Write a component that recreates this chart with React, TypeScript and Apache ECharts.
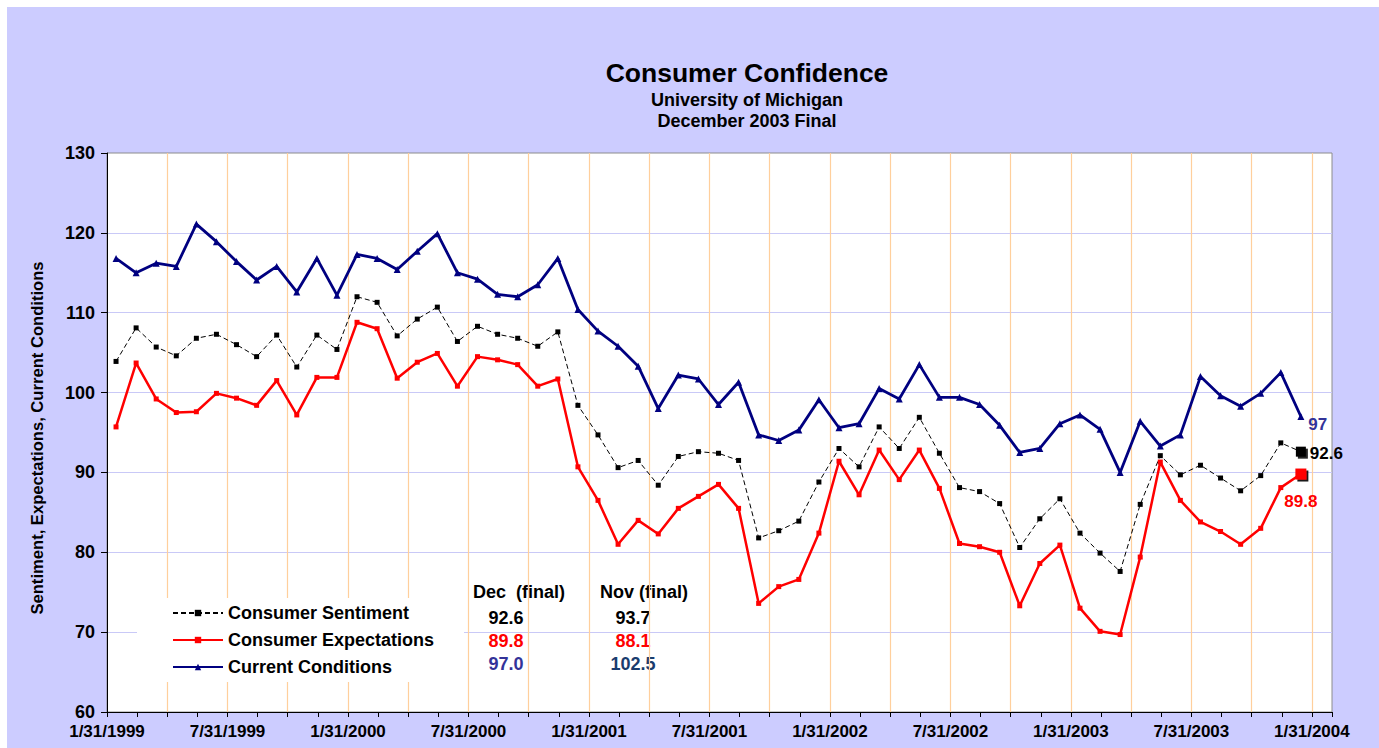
import React, { useEffect, useRef } from "react";
import * as echarts from "echarts";

// Monthly values, Jan 1999 .. Dec 2003
const sentiment = [
  103.9, 108.1, 105.7, 104.6, 106.8, 107.3, 106.0, 104.5, 107.2, 103.2, 107.2, 105.4,
  112.0, 111.3, 107.1, 109.2, 110.7, 106.4, 108.3, 107.3, 106.8, 105.8, 107.6, 98.4,
  94.7, 90.6, 91.5, 88.4, 92.0, 92.6, 92.4, 91.5, 81.8, 82.7, 83.9, 88.8,
  93.0, 90.7, 95.7, 93.0, 96.9, 92.4, 88.1, 87.6, 86.1, 80.6, 84.2, 86.7,
  82.4, 79.9, 77.6, 86.0, 92.1, 89.7, 90.9, 89.3, 87.7, 89.6, 93.7, 92.6,
];
const expectations = [
  95.7, 103.7, 99.2, 97.5, 97.6, 99.9, 99.3, 98.4, 101.5, 97.2, 101.9, 101.9,
  108.8, 108.0, 101.8, 103.8, 104.9, 100.8, 104.5, 104.1, 103.5, 100.8, 101.7, 90.7,
  86.5, 81.0, 84.0, 82.3, 85.5, 87.0, 88.5, 85.5, 73.6, 75.7, 76.6, 82.4,
  91.4, 87.2, 92.8, 89.1, 92.8, 88.0, 81.1, 80.7, 80.0, 73.3, 78.6, 80.9,
  73.0, 70.1, 69.7, 79.4, 91.3, 86.5, 83.8, 82.6, 81.0, 83.0, 88.1, 89.8,
];
const current = [
  116.8, 115.0, 116.2, 115.8, 121.1, 118.9, 116.4, 114.1, 115.8, 112.6, 116.8, 112.2,
  117.3, 116.8, 115.4, 117.7, 119.9, 115.0, 114.2, 112.3, 112.0, 113.5, 116.8, 110.4,
  107.7, 105.8, 103.3, 98.0, 102.2, 101.7, 98.5, 101.3, 94.7, 94.0, 95.3, 99.1,
  95.6, 96.1, 100.5, 99.2, 103.5, 99.4, 99.4, 98.5, 95.9, 92.5, 93.0, 96.1,
  97.2, 95.4, 90.0, 96.4, 93.3, 94.7, 102.0, 99.6, 98.3, 99.9, 102.5, 97.0,
];
const xTickLabels = [
  "1/31/1999", "7/31/1999", "1/31/2000", "7/31/2000", "1/31/2001", "7/31/2001",
  "1/31/2002", "7/31/2002", "1/31/2003", "7/31/2003", "1/31/2004",
];
const seriesNames = ["Consumer Sentiment", "Consumer Expectations", "Current Conditions"];

const FONT = "'Liberation Sans', Arial, Helvetica, sans-serif";
const OFF = 7; // chart div offset on the page

export default function App() {
  const ref = useRef<HTMLDivElement>(null);

  useEffect(() => {
    if (!ref.current) return;
    const chart = echarts.init(ref.current, undefined, { renderer: "svg" });
    const n = sentiment.length;
    const last = n - 1;
    // month offset from 1/31/1999 (points sit just after month-end ticks)
    const xs = sentiment.map((_, i) => i + 0.45);

    const endLabel = (color: string, extra: any) => ({
      show: true,
      color,
      fontSize: 17,
      fontWeight: "bold",
      fontFamily: FONT,
      formatter: (p: any) => String(p.value[1]),
      ...extra,
    });

    const mk = (arr: number[], lastItem: any) =>
      arr.map((v, i) => (i === last ? { value: [xs[i], v], ...lastItem } : [xs[i], v]));

    const bold = (size: number, color = "#000") => ({
      fontFamily: FONT,
      fontWeight: "bold",
      fontSize: size,
      fill: color,
    });

    const decX = 499;
    const novX = 626;
    const rowY = [611, 634, 657];
    const decColors = ["#000000", "#ff0000", "#333399"];
    const novColors = ["#000000", "#ff0000", "#1a3c6e"];
    const allSeries = [sentiment, expectations, current];

    const tableTexts: any[] = [
      { type: "text", left: 466, top: 576, style: { text: "Dec  (final)", ...bold(18) } },
      { type: "text", left: 593, top: 576, style: { text: "Nov (final)", ...bold(18) } },
    ];
    allSeries.forEach((arr, r) => {
      tableTexts.push({
        type: "text",
        x: decX,
        y: rowY[r],
        style: { text: arr[last].toFixed(1), ...bold(18, decColors[r]), align: "center", verticalAlign: "middle" },
      });
      tableTexts.push({
        type: "text",
        x: novX,
        y: rowY[r],
        style: { text: arr[last - 1].toFixed(1), ...bold(18, novColors[r]), align: "center", verticalAlign: "middle" },
      });
    });

    chart.setOption({
      animation: false,
      backgroundColor: "#ccccff",
      grid: {
        left: 107 - OFF,
        top: 153 - OFF,
        right: 1379 - 1332,
        bottom: 741 - (712 - OFF),
        show: true,
        backgroundColor: "#ffffff",
        borderColor: "#8c8c8c",
        borderWidth: 1,
        containLabel: false,
      },
      legend: {
        orient: "vertical",
        left: 137 - OFF,
        top: 598 - OFF,
        backgroundColor: "#ffffff",
        padding: [6, 30, 6, 35],
        itemGap: 9,
        itemWidth: 50,
        itemHeight: 8,
        textStyle: { fontFamily: FONT, fontWeight: "bold", fontSize: 18, color: "#000" },
        data: seriesNames,
      },
      xAxis: [
        {
          type: "value",
          min: 0,
          max: 61,
          interval: 1.5,
          axisLine: { show: true, lineStyle: { color: "#000", width: 1 } },
          axisTick: { show: true, length: 5, lineStyle: { color: "#000" } },
          axisLabel: {
            margin: 11,
            color: "#000",
            fontFamily: FONT,
            fontWeight: "bold",
            fontSize: 17,
            formatter: (v: number) => {
              const k = v / 6;
              return Math.abs(k - Math.round(k)) < 1e-6 ? xTickLabels[Math.round(k)] || "" : "";
            },
          },
          splitLine: { show: false },
        },
        {
          type: "value",
          min: 0,
          max: 61,
          interval: 3,
          position: "bottom",
          axisLine: { show: false },
          axisTick: { show: false },
          axisLabel: { show: false },
          splitLine: {
            show: true,
            showMinLine: false,
            showMaxLine: false,
            lineStyle: { color: "#ffcf9c", width: 1.2 },
          },
        },
      ],
      yAxis: {
        type: "value",
        min: 60,
        max: 130,
        interval: 10,
        axisLine: { show: true, lineStyle: { color: "#000", width: 1 } },
        axisTick: { show: true, length: 6, lineStyle: { color: "#000" } },
        axisLabel: {
          margin: 12,
          color: "#000",
          fontFamily: FONT,
          fontWeight: "bold",
          fontSize: 18,
        },
        splitLine: {
          show: true,
          showMinLine: false,
          showMaxLine: false,
          lineStyle: { color: "#c9c9f7", width: 1 },
        },
      },
      graphic: [
        { type: "text", x: 747 - OFF, y: 73 - OFF, style: { text: "Consumer Confidence", ...bold(26.5), align: "center", verticalAlign: "middle" } },
        { type: "text", x: 747 - OFF, y: 100 - OFF, style: { text: "University of Michigan", ...bold(18), align: "center", verticalAlign: "middle" } },
        { type: "text", x: 747 - OFF, y: 121 - OFF, style: { text: "December 2003 Final", ...bold(18), align: "center", verticalAlign: "middle" } },
        {
          type: "text",
          x: 37 - OFF,
          y: 438 - OFF,
          rotation: Math.PI / 2,
          style: {
            text: "Sentiment, Expectations, Current Conditions",
            fontFamily: FONT,
            fontWeight: "bold",
            fontSize: 16.6,
            fill: "#000",
            align: "center",
            verticalAlign: "middle",
          },
        },
        ...tableTexts,
      ],
      series: [
        {
          name: seriesNames[0],
          type: "line",
          z: 3,
          symbol: "rect",
          symbolSize: 5,
          lineStyle: { color: "#000", width: 1, type: [5, 3] },
          itemStyle: { color: "#000" },
          data: mk(sentiment, {
            symbolSize: 10,
            itemStyle: { color: "#000", shadowColor: "rgba(0,0,0,0.85)", shadowOffsetX: 2, shadowOffsetY: 2, shadowBlur: 0 },
            label: endLabel("#000", { position: "right", distance: 4, offset: [0, 2] }),
          }),
        },
        {
          name: seriesNames[1],
          type: "line",
          z: 4,
          symbol: "rect",
          symbolSize: 5,
          lineStyle: { color: "#ff0000", width: 2.5 },
          itemStyle: { color: "#ff0000" },
          data: mk(expectations, {
            symbolSize: 11,
            itemStyle: { color: "#ff0000", shadowColor: "rgba(0,0,0,0.9)", shadowOffsetX: 2, shadowOffsetY: 2, shadowBlur: 0 },
            label: endLabel("#ff0000", { position: "bottom", distance: 13 }),
          }),
        },
        {
          name: seriesNames[2],
          type: "line",
          z: 2,
          symbol: "triangle",
          symbolSize: 7,
          lineStyle: { color: "#000080", width: 2.8 },
          itemStyle: { color: "#000080" },
          data: mk(current, {
            label: endLabel("#333399", { position: "right", distance: 4, offset: [0, 8] }),
          }),
        },
      ],
    });

    return () => chart.dispose();
  }, []);

  return (
    <div
      ref={ref}
      style={{ position: "absolute", left: OFF, top: OFF, width: 1379 - OFF, height: 748 - OFF }}
    />
  );
}
